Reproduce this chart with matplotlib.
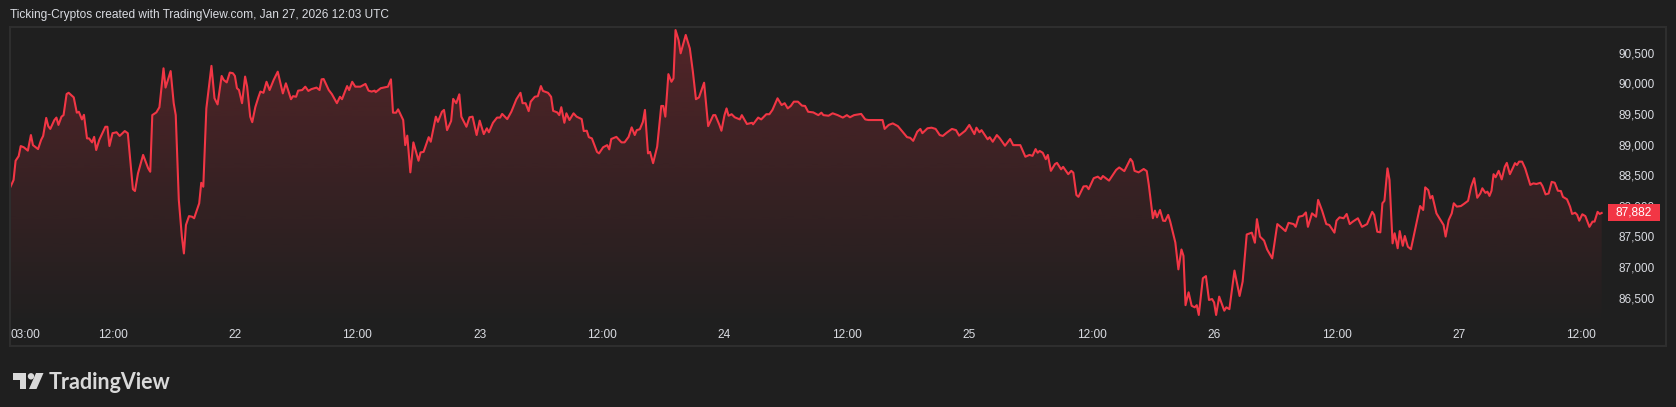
import numpy as np
import matplotlib.pyplot as plt
import matplotlib.patches as mpatches
import matplotlib.transforms as mtransforms
import matplotlib.colors as mcolors

plt.rcParams['font.family'] = ['Liberation Sans', 'DejaVu Sans']

W, H = 1676, 407
BG = '#1f1f1f'
RED = '#f23645'
TXT = '#dadce2'

# hours since Jan 21 00:00 and BTC price
hours = [
    2.0, 2.3, 2.5, 2.8, 3.0, 3.3, 3.7, 4.0, 4.2, 4.7, 5.0, 5.2, 5.5, 5.7, 5.9, 6.3, 6.5, 6.7, 7.0, 7.2,
    7.5, 7.7, 8.2, 8.5, 8.7, 9.0, 9.2, 9.5, 9.7, 10.0, 10.2, 10.4, 10.7, 11.3, 11.5, 11.7, 12.0, 12.4, 12.7, 13.2,
    13.5, 14.0, 14.2, 14.5, 15.0, 15.5, 15.7, 15.9, 16.3, 16.6, 17.0, 17.2, 17.7, 18.0, 18.2, 18.5, 18.8, 19.0, 19.2, 19.5,
    19.8, 20.0, 20.5, 20.7, 20.9, 21.2, 21.7, 22.0, 22.3, 22.7, 22.9, 23.2, 23.5, 23.8, 24.0, 24.2, 24.4, 24.7, 25.0, 25.2,
    25.5, 25.7, 26.0, 26.3, 26.5, 26.8, 27.1, 27.4, 27.8, 28.2, 28.7, 29.0, 29.5, 29.7, 30.0, 30.2, 30.6, 30.9, 31.2, 31.5,
    32.0, 32.3, 32.5, 32.7, 33.2, 33.5, 34.0, 34.3, 34.5, 35.0, 35.2, 35.5, 35.8, 36.3, 36.8, 37.1, 37.4, 37.7, 37.8, 38.3,
    38.7, 39.0, 39.3, 39.5, 39.8, 40.0, 40.5, 40.7, 40.9, 41.2, 41.5, 42.0, 42.2, 42.5, 43.0, 43.2, 43.7, 43.9, 44.3, 44.5,
    44.8, 45.2, 45.4, 45.7, 46.0, 46.2, 46.7, 47.0, 47.3, 47.7, 48.0, 48.4, 48.7, 48.9, 49.3, 49.7, 50.0, 50.2, 50.7, 51.1,
    51.6, 52.0, 52.2, 52.5, 52.8, 53.0, 53.4, 53.7, 54.0, 54.2, 54.7, 55.0, 55.2, 55.6, 55.8, 56.0, 56.3, 56.5, 56.8, 57.2,
    57.5, 58.0, 58.2, 58.5, 58.7, 59.0, 59.5, 59.7, 60.1, 60.5, 60.7, 60.9, 61.4, 61.9, 62.2, 62.6, 62.9, 63.2, 63.4, 63.7,
    64.0, 64.2, 64.5, 64.7, 65.0, 65.4, 65.8, 66.0, 66.2, 66.5, 66.8, 67.0, 67.2, 67.5, 67.7, 68.2, 68.6, 68.9, 69.2, 69.5,
    70.0, 70.4, 70.9, 71.1, 71.5, 71.7, 72.0, 72.2, 72.4, 72.7, 73.0, 73.5, 73.7, 74.2, 74.7, 74.8, 75.3, 75.6, 76.1, 76.4,
    76.7, 77.2, 77.6, 77.9, 78.2, 78.5, 78.8, 79.2, 79.6, 79.9, 80.2, 80.7, 81.2, 81.5, 81.7, 82.2, 82.6, 83.1, 83.6, 84.0,
    84.3, 84.7, 85.4, 85.8, 86.1, 87.5, 87.7, 88.1, 88.5, 89.0, 89.9, 90.2, 90.5, 90.9, 91.2, 91.4, 91.9, 92.3, 92.7, 93.1,
    93.4, 93.8, 94.3, 94.7, 95.0, 95.6, 96.0, 96.5, 96.7, 97.0, 97.2, 97.8, 98.0, 98.3, 98.7, 99.0, 99.5, 100.0, 100.3, 101.0,
    101.5, 101.9, 102.2, 102.5, 102.7, 102.9, 103.2, 103.5, 103.7, 104.0, 104.4, 104.6, 105.0, 105.2, 105.7, 106.0, 106.2, 106.5, 106.7, 107.2,
    107.5, 107.7, 108.2, 108.6, 108.9, 109.1, 109.7, 110.4, 110.7, 111.2, 111.8, 112.0, 112.2, 112.6, 113.1, 113.4, 113.6, 114.0, 114.2, 114.4,
    114.7, 115.0, 115.2, 115.5, 115.7, 116.2, 116.5, 116.8, 117.0, 117.2, 117.5, 117.8, 118.1, 118.3, 118.5, 118.9, 119.2, 119.5, 119.8, 120.0,
    120.2, 120.5, 121.0, 121.2, 121.5, 122.0, 122.5, 122.8, 123.2, 123.7, 124.0, 124.2, 124.5, 124.9, 125.2, 125.7, 126.2, 126.6, 127.0, 127.3,
    127.8, 128.0, 128.3, 128.7, 129.0, 129.2, 129.6, 130.0, 130.2, 130.6, 131.0, 131.3, 131.8, 132.0, 132.3, 132.7, 133.0, 133.3, 133.6, 134.1,
    134.5, 135.0, 135.5, 135.7, 136.0, 136.3, 136.5, 136.7, 137.0, 137.2, 137.5, 137.7, 138.0, 138.2, 138.5, 138.7, 139.0, 139.3, 140.2, 140.5,
    140.7, 141.0, 141.2, 141.4, 141.8, 142.1, 142.5, 142.7, 143.0, 143.3, 143.5, 143.8, 144.2, 144.5, 144.9, 145.2, 145.5, 145.8, 146.1, 146.3,
    146.6, 146.8, 147.0, 147.2, 147.4, 147.6, 147.9, 148.2, 148.5, 148.7, 149.0, 149.3, 149.5, 149.7, 149.9, 150.2, 150.5, 151.0, 151.3, 151.6,
    152.0, 152.2, 152.5, 152.8, 153.1, 153.4, 153.7, 154.0, 154.2, 154.6, 154.9, 155.1, 155.4, 155.6, 155.8, 156.1, 156.4, 156.8, 157.1, 157.3,
    157.6, 157.8, 158.0,
]
prices = [
    88310, 88420, 88735, 88810, 88975, 88955, 88900, 89155, 88990, 88925, 89075, 89140, 89435, 89300, 89255, 89400, 89440, 89320, 89455, 89480,
    89825, 89845, 89770, 89520, 89535, 89410, 89485, 89100, 89100, 89035, 89125, 88910, 89075, 89290, 89290, 88975, 89185, 89200, 89140, 89220,
    89185, 88270, 88240, 88530, 88830, 88610, 88555, 89480, 89525, 89610, 90245, 89930, 90200, 89675, 89480, 88095, 87495, 87220, 87685, 87830,
    87820, 87795, 88040, 88375, 88310, 89590, 90285, 89755, 89655, 90120, 90055, 90015, 90175, 90165, 90120, 89920, 89890, 89675, 90110, 89945,
    89455, 89365, 89610, 89770, 89865, 89845, 90025, 89890, 90055, 90190, 89835, 90000, 89740, 89790, 89780, 89880, 89890, 89945, 89875, 89905,
    89930, 89890, 90065, 90070, 89890, 89825, 89675, 89780, 89740, 89955, 89890, 90025, 89945, 89945, 89990, 89880, 89865, 89880, 89855, 89920,
    89935, 89945, 90065, 89520, 89520, 89575, 89400, 88990, 89145, 88545, 89035, 88735, 88870, 88880, 89120, 89045, 89455, 89370, 89535, 89565,
    89235, 89385, 89745, 89675, 89820, 89455, 89290, 89445, 89455, 89155, 89390, 89170, 89265, 89200, 89355, 89440, 89440, 89500, 89415, 89535,
    89740, 89845, 89675, 89675, 89545, 89700, 89780, 89790, 89955, 89875, 89845, 89780, 89550, 89525, 89480, 89610, 89355, 89510, 89400, 89510,
    89455, 89415, 89220, 89225, 89120, 89100, 88880, 88855, 88955, 88990, 88920, 89090, 89125, 89035, 89035, 89125, 89280, 89155, 89235, 89250,
    89370, 89565, 88855, 88880, 88695, 88965, 89630, 89630, 89455, 90150, 90025, 90080, 90870, 90705, 90490, 90790, 90570, 90190, 89740, 89770,
    90010, 89300, 89480, 89480, 89320, 89225, 89480, 89590, 89470, 89495, 89445, 89410, 89480, 89335, 89355, 89330, 89440, 89410, 89495, 89495,
    89565, 89755, 89645, 89675, 89590, 89630, 89700, 89700, 89635, 89630, 89535, 89525, 89480, 89520, 89480, 89470, 89510, 89480, 89440, 89480,
    89445, 89480, 89500, 89410, 89400, 89400, 89255, 89320, 89345, 89300, 89120, 89110, 89060, 89210, 89255, 89185, 89265, 89275, 89255, 89155,
    89140, 89195, 89255, 89235, 89145, 89225, 89320, 89170, 89275, 89200, 89235, 89085, 89120, 89045, 89155, 89100, 88980, 89090, 88990, 88990,
    88800, 88830, 88815, 88925, 88865, 88895, 88865, 88760, 88830, 88570, 88680, 88700, 88595, 88635, 88515, 88570, 88540, 88175, 88145, 88315,
    88320, 88270, 88450, 88475, 88435, 88485, 88410, 88585, 88625, 88565, 88765, 88720, 88570, 88545, 88600, 88565, 88340, 87795, 87920, 87810,
    87930, 87755, 87750, 87850, 87740, 87400, 86960, 87285, 87180, 86375, 86585, 86365, 86340, 86375, 86215, 86815, 86850, 86460, 86475, 86420,
    86215, 86515, 86285, 86340, 86310, 86940, 86525, 86760, 87530, 87560, 87395, 87780, 87495, 87430, 87285, 87140, 87700, 87645, 87585, 87720,
    87700, 87655, 87820, 87835, 87890, 87655, 87875, 87820, 88095, 87915, 87700, 87685, 87560, 87755, 87810, 87795, 87865, 87700, 87740, 87795,
    87655, 87700, 87900, 87850, 87575, 87565, 88040, 88080, 88610, 88420, 87385, 87550, 87305, 87585, 87345, 87505, 87330, 87290, 87995, 87930,
    88300, 88255, 88120, 88160, 87875, 87795, 87685, 87495, 87765, 87875, 88040, 87985, 87995, 88030, 88080, 88310, 88450, 88130, 88200, 88285,
    88210, 88230, 88160, 88245, 88515, 88465, 88570, 88430, 88635, 88700, 88515, 88620, 88695, 88665, 88720, 88720, 88610, 88340, 88365, 88355,
    88375, 88320, 88185, 88200, 88390, 88375, 88245, 88240, 88145, 88105, 87985, 87865, 87885, 87850, 87755, 87860, 87830, 87655, 87740, 87740,
    87900, 87865, 87882,
]

y_ticks = [86500, 87000, 87500, 88000, 88500, 89000, 89500, 90000, 90500]
x_ticks = [3, 12, 24, 36, 48, 60, 72, 84, 96, 108, 120, 132, 144, 156]
x_labels = ['03:00', '12:00', '22', '12:00', '23', '12:00', '24', '12:00',
            '25', '12:00', '26', '12:00', '27', '12:00']
title = 'Ticking-Cryptos created with TradingView.com, Jan 27, 2026 12:03 UTC'
last_price = prices[-1]

fig = plt.figure(figsize=(W / 100, H / 100), dpi=100, facecolor=BG)
ax = fig.add_axes([10 / W, 1 - 322 / H, 1593 / W, 295 / H])
ax.set_facecolor(BG)
xlim = (1.95, 158.13)
ylim = (86100, 90920)

# gradient area under the line
grad = np.zeros((256, 1, 4))
grad[..., :3] = mcolors.to_rgb(RED)
grad[:, 0, 3] = np.linspace(0.005, 0.25, 256)
im = ax.imshow(grad, extent=[xlim[0], xlim[1], ylim[0], ylim[1]], origin='lower',
               aspect='auto', zorder=2, interpolation='bilinear')
verts = list(zip(hours, prices)) + [(hours[-1], ylim[0]), (hours[0], ylim[0])]
clip = mpatches.Polygon(verts, closed=True, fc='none', ec='none')
ax.add_patch(clip)
im.set_clip_path(clip)

ax.plot(hours, prices, color=RED, lw=1.5, zorder=3, solid_joinstyle='round')
ax.set_xlim(*xlim)
ax.set_ylim(*ylim)

for s in ax.spines.values():
    s.set_visible(False)
ax.yaxis.tick_right()
ax.set_yticks(y_ticks, [f'{v:,}' for v in y_ticks])
ax.tick_params(axis='y', length=0, pad=10.8, labelsize=8.5, labelcolor=TXT)
ax.set_xticks(x_ticks, [''] + x_labels[1:])
ax.tick_params(axis='x', length=0, pad=5, labelsize=8.6, labelcolor=TXT)
# first label is pushed right so it stays inside the pane
lab_tr, _, _ = ax.get_xaxis_text1_transform(5)
ax.text(xlim[0], 0, x_labels[0], transform=lab_tr, ha='left', va='top',
        fontsize=8.6, color=TXT)

# pixel transform (top-left origin) for decorations
px = mtransforms.Affine2D().scale(1 / W, -1 / H).translate(0, 1) + fig.transFigure

# outer frame
fig.add_artist(mpatches.Rectangle((10, 27), 1656, 319, transform=px, fill=False,
                                  ec='#2e2e2e', lw=1.5))

# last price tag
tag_tr = mtransforms.blended_transform_factory(fig.transFigure, ax.transData)
half = 8.5 * (ylim[1] - ylim[0]) / 295
fig.add_artist(mpatches.Rectangle((1608 / W, last_price - half), 52 / W, 2 * half,
                                  transform=tag_tr, fc=RED, ec='none', zorder=5))
fig.text(1634 / W, last_price, f'{last_price:,}', transform=tag_tr, ha='center',
         va='center', fontsize=8.6, color='white', zorder=6)

fig.text(10 / W, 1 - 15 / H, title, ha='left', va='center', fontsize=8.6, color=TXT)

# TradingView logo
logo_c = '#d9d9d9'
fig.add_artist(mpatches.Polygon([(12.5, 373), (26, 373), (26, 389), (19.5, 389), (19.5, 379.5), (12.5, 379.5)],
                                closed=True, transform=px, fc=logo_c, ec='none'))
fig.add_artist(mpatches.Circle((31, 376.3), 3.2, transform=px, fc=logo_c, ec='none'))
fig.add_artist(mpatches.Polygon([(36, 373), (43.5, 373), (36.5, 389), (29, 389)],
                                closed=True, transform=px, fc=logo_c, ec='none'))
fig.text(49, 389, 'TradingView', transform=px, ha='left', va='baseline', fontsize=15.5,
         fontweight='bold', family=['Lato', 'DejaVu Sans'], color=logo_c)

fig.savefig('out.png', dpi=100, facecolor=BG)
